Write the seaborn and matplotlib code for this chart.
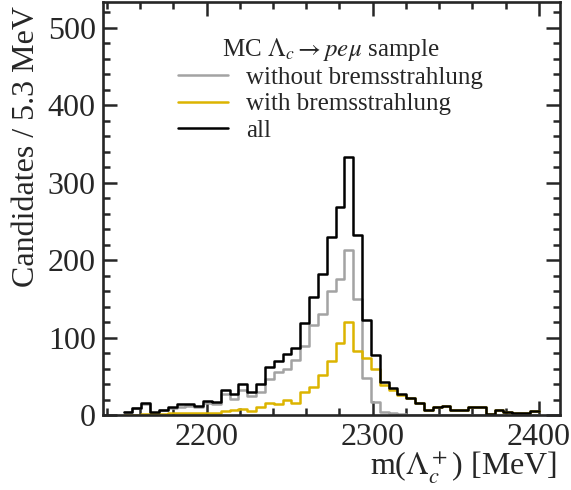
import numpy as np
import matplotlib
matplotlib.use('Agg')
import matplotlib.pyplot as plt
from matplotlib.ticker import MultipleLocator
import seaborn as sns

sns.set_style('ticks')
plt.rcParams['font.family'] = ['Liberation Serif', 'DejaVu Serif']
plt.rcParams['mathtext.fontset'] = 'stix'

# histogram binning: 47 bins of ~5.3 MeV
m_lo, m_hi, n_bins = 2150, 2400, 47

# candidates per bin
all_counts = [4, 9, 15, 4, 7, 11, 14, 14, 12, 18,
              17, 32, 27, 40, 30, 40, 62, 70, 79, 87,
              119, 152, 182, 230, 269, 333, 232, 122, 77, 43,
              35, 27, 22, 15, 7, 11, 12, 6, 6, 10,
              10, 1, 7, 4, 3, 3, 5]
with_brem = [0, 0, 1, 1, 1, 2, 3, 2, 2, 2,
             3, 5, 6, 8, 5, 10, 15, 14, 20, 16,
             30, 36, 52, 70, 93, 120, 82, 74, 60, 39,
             32, 26, 22, 15, 7, 11, 12, 6, 6, 10,
             10, 1, 7, 4, 3, 3, 5]
without_brem = [4, 9, 14, 3, 6, 9, 11, 12, 10, 16,
                14, 27, 21, 32, 25, 30, 47, 56, 59, 71,
                89, 116, 130, 160, 176, 213, 150, 48, 17, 4,
                3, 1, 0, 0, 0, 0, 0, 0, 0, 0,
                0, 0, 0, 0, 0, 0, 0]

labels = ['without bremsstrahlung', 'with bremsstrahlung', 'all']
colors = ['#a3a3a3', '#dcb400', 'black']

edges = np.linspace(m_lo, m_hi, n_bins + 1)
centers = 0.5 * (edges[:-1] + edges[1:])

fig = plt.figure(figsize=(5.71, 4.9), dpi=100)
ax = fig.add_axes([0.180, 0.153, 0.800, 0.843])

for counts, label, color in zip([without_brem, with_brem, all_counts], labels, colors):
    sns.histplot(x=centers, weights=np.asarray(counts, dtype=float), bins=n_bins,
                 binrange=(m_lo, m_hi), element='step', fill=False,
                 color=color, linewidth=1.8, label=label, ax=ax)

ax.set_xlim(2137.5, 2412.5)
ax.set_ylim(0, 533)

ax.xaxis.set_major_locator(MultipleLocator(100))
ax.xaxis.set_minor_locator(MultipleLocator(20))
ax.yaxis.set_major_locator(MultipleLocator(100))
ax.yaxis.set_minor_locator(MultipleLocator(20))
ax.tick_params(which='both', direction='in', top=True, right=True, width=1.8,
               labelsize=23)
ax.tick_params(which='major', length=10)
ax.tick_params(which='minor', length=5)
ax.tick_params(axis='x', pad=6)
ax.tick_params(axis='y', pad=5)
for sp in ax.spines.values():
    sp.set_linewidth(1.9)

ax.set_xlabel(r'm($\Lambda_c^+$) [MeV]', fontsize=23, ha='right')
ax.xaxis.set_label_coords(0.995, -0.085)
ax.set_ylabel('Candidates / 5.3 MeV', fontsize=23, ha='right')
ax.yaxis.set_label_coords(-0.135, 0.99)

leg = ax.legend(title=r'MC $\Lambda_c \rightarrow pe\mu$ sample', frameon=False,
                loc='upper left', bbox_to_anchor=(0.165, 0.918), borderaxespad=0,
                borderpad=0, fontsize=18, title_fontsize=18,
                handlelength=2.0, handletextpad=0.7, labelspacing=0.15)

fig.savefig('out.png', dpi=100)
